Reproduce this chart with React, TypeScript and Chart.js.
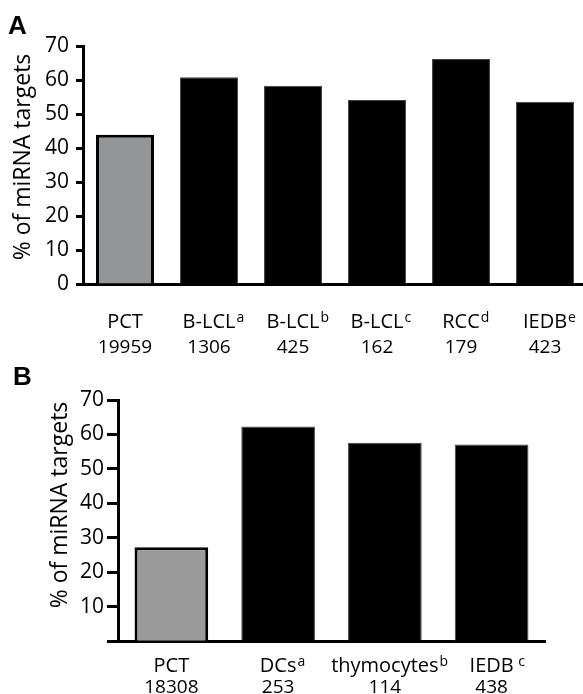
import React, { useEffect, useRef } from 'react';
import { Chart, registerables } from 'chart.js';

Chart.register(...registerables);

const FONT = "'Open Sans', 'Liberation Sans', sans-serif";
const LETTER_FONT = "'Liberation Sans', Arial, sans-serif";

// Panel A data
const A_CATEGORIES = ['PCT', 'B-LCL', 'B-LCL', 'B-LCL', 'RCC', 'IEDB'];
const A_SUPERSCRIPTS = ['', 'a', 'b', 'c', 'd', 'e'];
const A_COUNTS = ['19959', '1306', '425', '162', '179', '423'];
const A_VALUES = [43.9, 60.8, 58.3, 54.1, 66.2, 53.6];

// Panel B data
const B_CATEGORIES = ['PCT', 'DCs', 'thymocytes', 'IEDB'];
const B_SUPERSCRIPTS = ['', 'a', 'b', ' c'];
const B_COUNTS = ['18308', '253', '114', '438'];
const B_VALUES = [27.3, 62.3, 57.6, 57.1];

const Y_MIN = 0;
const Y_MAX = 70;
const Y_STEP = 10;
const Y_TITLE = '% of miRNA targets';

type PanelCfg = {
  letter: string;
  categories: string[];
  sups: string[];
  counts: string[];
  values: number[];
  gray: string;
  width: number;
  height: number;
  top: number;
  areaLeft: number;
  areaTop: number;
  areaBottom: number;
  padRight: number;
  tickLength: number;
  tickPad: number;
  hideZero: boolean;
  titleX: number;
  titleY: number;
  letterX: number;
  letterY: number;
  labelY: number;
  countY: number;
};

const textPlugin = {
  id: 'panelText',
  afterDraw(chart: any, _args: any, opts: any) {
    const { ctx } = chart;
    const xs = chart.scales.x;
    ctx.save();
    ctx.fillStyle = '#000';
    ctx.textBaseline = 'alphabetic';
    ctx.textAlign = 'left';
    ctx.font = `bold 26px ${LETTER_FONT}`;
    ctx.fillText(opts.letter, opts.letterX, opts.letterY);

    ctx.save();
    ctx.translate(opts.titleX, opts.titleY);
    ctx.rotate(-Math.PI / 2);
    ctx.font = `23px ${FONT}`;
    ctx.textAlign = 'center';
    ctx.textBaseline = 'middle';
    ctx.fillText(opts.title, 0, 0);
    ctx.restore();

    opts.categories.forEach((c: string, i: number) => {
      const px = xs.getPixelForValue(i);
      ctx.font = `20px ${FONT}`;
      ctx.textAlign = 'center';
      ctx.fillText(c, px, opts.labelY);
      const w = ctx.measureText(c).width;
      if (opts.sups[i]) {
        ctx.font = `14px ${FONT}`;
        ctx.textAlign = 'left';
        ctx.fillText(opts.sups[i], px + w / 2 + 1, opts.labelY - 6);
      }
      ctx.font = `19px ${FONT}`;
      ctx.textAlign = 'center';
      ctx.fillText(opts.counts[i], px, opts.countY);
    });
    ctx.restore();
  },
};

function Panel({ cfg }: { cfg: PanelCfg }) {
  const ref = useRef<HTMLCanvasElement | null>(null);
  useEffect(() => {
    if (!ref.current) return;
    const labels = cfg.categories.map((c, i) => c + cfg.sups[i]);
    const colors = cfg.values.map((_, i) => (i === 0 ? cfg.gray : '#000'));
    const borders = cfg.values.map((_, i) => (i === 0 ? '#000' : '#444'));
    const bw = cfg.values.map((_, i) => (i === 0 ? 3 : 1));
    const chart = new Chart(ref.current, {
      type: 'bar',
      data: {
        labels,
        datasets: [
          {
            data: cfg.values,
            backgroundColor: colors,
            borderColor: borders,
            borderWidth: bw,
            borderSkipped: 'start',
            categoryPercentage: 1,
            barPercentage: 0.69,
          },
        ],
      },
      options: {
        animation: false,
        responsive: false,
        devicePixelRatio: 1,
        layout: { padding: { left: 0, top: cfg.areaTop, right: cfg.padRight, bottom: 0 } },
        plugins: {
          legend: { display: false },
          tooltip: { enabled: false },
          panelText: {
            letter: cfg.letter,
            letterX: cfg.letterX,
            letterY: cfg.letterY,
            title: Y_TITLE,
            titleX: cfg.titleX,
            titleY: cfg.titleY,
            categories: cfg.categories,
            sups: cfg.sups,
            counts: cfg.counts,
            labelY: cfg.labelY,
            countY: cfg.countY,
          },
        } as any,
        scales: {
          x: {
            grid: { display: false },
            ticks: { display: false },
            border: { display: true, color: '#000', width: 3 },
            afterFit: (s: any) => {
              s.height = cfg.height - cfg.areaBottom;
            },
          },
          y: {
            min: Y_MIN,
            max: Y_MAX,
            ticks: {
              stepSize: Y_STEP,
              color: '#000',
              padding: cfg.tickPad,
              font: { family: FONT, size: 21 },
              callback: (v: any) => (cfg.hideZero && v === 0 ? '' : String(v)),
            },
            grid: {
              display: true,
              drawOnChartArea: false,
              drawTicks: true,
              tickLength: cfg.tickLength,
              tickWidth: 3,
              tickColor: '#000',
            },
            border: { display: true, color: '#000', width: 3 },
            afterFit: (s: any) => {
              s.width = cfg.areaLeft;
            },
          },
        },
      },
      plugins: [textPlugin],
    } as any);
    return () => chart.destroy();
  }, [cfg]);
  return (
    <canvas
      ref={ref}
      width={cfg.width}
      height={cfg.height}
      style={{ position: 'absolute', left: 0, top: cfg.top, width: cfg.width, height: cfg.height }}
    />
  );
}

const PANEL_A: PanelCfg = {
  letter: 'A',
  categories: A_CATEGORIES,
  sups: A_SUPERSCRIPTS,
  counts: A_COUNTS,
  values: A_VALUES,
  gray: '#949597',
  width: 587,
  height: 360,
  top: 0,
  areaLeft: 83,
  areaTop: 46,
  areaBottom: 284,
  padRight: 0,
  tickLength: 7,
  tickPad: 7,
  hideZero: false,
  titleX: 23,
  titleY: 157,
  letterX: 8,
  letterY: 34,
  labelY: 328,
  countY: 353,
};

const PANEL_B: PanelCfg = {
  letter: 'B',
  categories: B_CATEGORIES,
  sups: B_SUPERSCRIPTS,
  counts: B_COUNTS,
  values: B_VALUES,
  gray: '#9a9a9a',
  width: 583,
  height: 334,
  top: 360,
  areaLeft: 118,
  areaTop: 40,
  areaBottom: 281.3,
  padRight: 38,
  tickLength: 11,
  tickPad: 3,
  hideZero: true,
  titleX: 60,
  titleY: 145,
  letterX: 13,
  letterY: 25,
  labelY: 312,
  countY: 333,
};

export default function App() {
  return (
    <div
      style={{
        position: 'absolute',
        left: 0,
        top: 0,
        width: 583,
        height: 694,
        overflow: 'hidden',
        background: '#fff',
      }}
    >
      <Panel cfg={PANEL_A} />
      <Panel cfg={PANEL_B} />
    </div>
  );
}
